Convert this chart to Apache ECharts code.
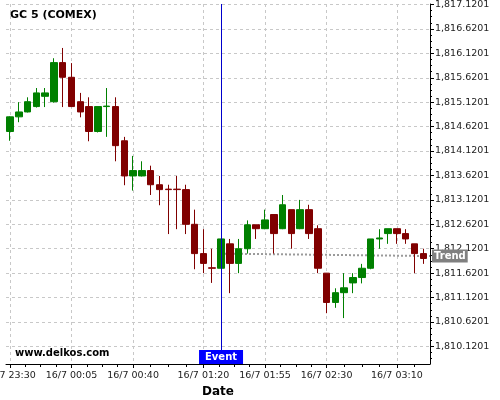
<!DOCTYPE html>
<html><head><meta charset="utf-8">
<script src="https://cdn.jsdelivr.net/npm/echarts@6/dist/echarts.min.js"></script>
<style>html,body{margin:0;padding:0;background:#fff}#c{width:500px;height:400px}</style>
</head><body><div id="c"></div>
<script>
const times = ["15/7 23:30","15/7 23:35","15/7 23:40","15/7 23:45","15/7 23:50","15/7 23:55",
"16/7 00:00","16/7 00:05","16/7 00:10","16/7 00:15","16/7 00:20","16/7 00:25","16/7 00:30","16/7 00:35",
"16/7 00:40","16/7 00:45","16/7 00:50","16/7 00:55","16/7 01:00","16/7 01:05","16/7 01:10","16/7 01:15",
"16/7 01:20","16/7 01:25","16/7 01:30","16/7 01:35","16/7 01:40","16/7 01:45","16/7 01:50","16/7 01:55",
"16/7 02:00","16/7 02:05","16/7 02:10","16/7 02:15","16/7 02:20","16/7 02:25","16/7 02:30","16/7 02:35",
"16/7 02:40","16/7 02:45","16/7 02:50","16/7 02:55","16/7 03:00","16/7 03:05","16/7 03:10","16/7 03:15",
"16/7 03:20","16/7 03:25"];
const opens  = [1814.52,1814.82,1814.92,1815.03,1815.24,1815.13,1815.93,1815.63,1815.13,1815.03,1814.52,1815.03,
1815.03,1814.33,1813.61,1813.61,1813.72,1813.43,1813.34,1813.34,1813.33,1812.62,1812.02,1811.73,
1811.72,1812.22,1811.82,1812.12,1812.61,1812.53,1812.82,1812.53,1812.92,1812.53,1812.92,1812.53,
1811.62,1811.02,1811.22,1811.42,1811.53,1811.72,1812.32,1812.43,1812.53,1812.43,1812.22,1812.02];
const closes = [1814.82,1814.92,1815.13,1815.31,1815.31,1815.93,1815.63,1815.03,1814.92,1814.52,1815.03,1815.04,
1814.23,1813.61,1813.72,1813.72,1813.43,1813.33,1813.33,1813.33,1812.62,1812.02,1811.82,1811.72,
1812.32,1811.82,1812.12,1812.61,1812.53,1812.71,1812.43,1813.02,1812.43,1812.92,1812.43,1811.72,
1811.02,1811.22,1811.32,1811.53,1811.72,1812.32,1812.34,1812.53,1812.43,1812.32,1812.02,1811.92];
const lows   = [1814.33,1814.71,1814.91,1815.01,1815.02,1815.11,1815.02,1815.02,1814.81,1814.32,1814.50,1814.41,
1813.91,1813.42,1813.31,1813.60,1813.22,1813.01,1812.42,1812.52,1812.42,1811.70,1811.62,1811.42,
1811.72,1811.21,1811.62,1812.02,1812.32,1812.52,1812.02,1812.52,1812.12,1812.52,1812.32,1811.62,
1810.80,1810.91,1810.70,1811.21,1811.41,1811.70,1812.12,1812.22,1812.22,1812.22,1811.62,1811.81];
const highs  = [1814.83,1815.12,1815.22,1815.41,1815.41,1816.02,1816.23,1815.92,1815.31,1815.22,1815.03,1815.41,
1815.22,1814.41,1814.02,1813.91,1813.82,1813.61,1813.43,1813.61,1813.43,1812.92,1812.52,1812.12,
1812.32,1812.32,1812.32,1812.70,1812.61,1812.92,1812.82,1813.22,1812.92,1813.12,1813.02,1812.60,
1811.62,1811.31,1811.62,1811.62,1811.81,1812.32,1812.52,1812.53,1812.53,1812.52,1812.22,1812.12];
const xMajorTicks = [0, 7, 14, 22, 29, 36, 44];
const xMinorTicks = [1.75, 3.5, 5.25, 8.75, 10.5, 12.25, 16, 18, 20, 23.75, 25.5, 27.25,
                     30.75, 32.5, 34.25, 38, 40, 42, 46];
const yMajorTicks = [1810.1201, 1810.6201, 1811.1201, 1811.6201, 1812.1201, 1812.6201, 1813.1201,
                     1813.6201, 1814.1201, 1814.6201, 1815.1201, 1815.6201, 1816.1201, 1816.6201, 1817.1201];
const trendX = [24, 47.76];
const trendY = [1812.02, 1811.97];
const eventIndex = 24;
const yMin = 1809.76, yMax = 1817.13, xMin = -0.45, xMax = 47.76;

const yMinorTicks = [];
yMajorTicks.forEach(function (t) {
  [-0.375, -0.25, -0.125].forEach(function (d) { const v = t + d; if (v >= yMin) yMinorTicks.push(v); });
});

const GRID = { left: 6, right: 70, top: 4, bottom: 36 };
const W = 500, H = 400;
const gridW = W - GRID.left - GRID.right, gridH = H - GRID.top - GRID.bottom;

const FONT = '"DejaVu Sans", sans-serif';
function fmtY(v) {
  const s = v.toFixed(4).split('.');
  return s[0].replace(/\B(?=(\d{3})+(?!\d))/g, ',') + '.' + s[1];
}
const candleData = opens.map(function (o, i) { return [i, o, closes[i], lows[i], highs[i]]; });
const gridLine = { show: true, lineStyle: { color: '#c8c8c8', type: [3, 3], width: 1 } };

const chart = echarts.init(document.getElementById('c'), null, { renderer: 'canvas' });
chart.setOption({
  animation: false,
  backgroundColor: '#fff',
  grid: { left: GRID.left, right: GRID.right, top: GRID.top, bottom: GRID.bottom, containLabel: false, outerBoundsMode: 'none' },
  xAxis: [{
    type: 'value', min: xMin, max: xMax, position: 'bottom',
    name: 'Date', nameLocation: 'middle', nameGap: 19,
    nameTextStyle: { fontFamily: FONT, fontSize: 12, fontWeight: 'bold', color: '#000' },
    axisLine: { show: true, onZero: false, lineStyle: { color: '#000', width: 1 } },
    axisTick: { show: true, customValues: xMajorTicks, length: 4, lineStyle: { color: '#000' } },
    axisLabel: { show: true, customValues: xMajorTicks, hideOverlap: false, margin: 7,
      fontFamily: FONT, fontSize: 9.5, color: '#222',
      formatter: function (v) { return times[Math.round(v)]; } },
    splitLine: gridLine
  }, {
    type: 'value', min: xMin, max: xMax, position: 'top', offset: -gridH,
    axisLine: { show: false, onZero: false },
    axisTick: { show: true, inside: true, customValues: xMinorTicks, length: 3, lineStyle: { color: '#000' } },
    axisLabel: { show: false }, splitLine: { show: false }
  }],
  yAxis: [{
    type: 'value', min: yMin, max: yMax, position: 'right', scale: true,
    axisLine: { show: true, onZero: false, lineStyle: { color: '#000', width: 1 } },
    axisTick: { show: true, customValues: yMajorTicks, length: 4, lineStyle: { color: '#000' } },
    axisLabel: { show: true, customValues: yMajorTicks, margin: 5, hideOverlap: false,
      fontFamily: FONT, fontSize: 9.5, color: '#222', formatter: fmtY },
    splitLine: gridLine
  }, {
    type: 'value', min: yMin, max: yMax, position: 'left', offset: -gridW, scale: true,
    axisLine: { show: false, onZero: false },
    axisTick: { show: true, inside: true, customValues: yMinorTicks, length: 2, lineStyle: { color: '#000' } },
    axisLabel: { show: false }, splitLine: { show: false }
  }],
  graphic: [
    { type: 'text', left: 10, top: 10, z: 10,
      style: { text: 'GC 5 (COMEX)', fontFamily: FONT, fontSize: 11, fontWeight: 'bold', fill: '#000' } },
    { type: 'text', left: 15, top: 348.5, z: 10,
      style: { text: 'www.delkos.com', fontFamily: FONT, fontSize: 10, fontWeight: 'bold', fill: '#000' } }
  ],
  series: [{
    type: 'line', z: 1, xAxisIndex: 0, yAxisIndex: 0,
    data: trendX.map(function (x, i) { return [x, trendY[i]]; }),
    showSymbol: false, symbol: 'none', silent: true,
    lineStyle: { type: 'dotted', width: 2, color: '#9a9a9a' },
    endLabel: { show: true, formatter: 'Trend', distance: 2, color: '#fff', backgroundColor: '#808080',
      fontFamily: FONT, fontSize: 10, fontWeight: 'bold', padding: [2, 2, 1, 2] }
  }, {
    type: 'candlestick', z: 2, xAxisIndex: 0, yAxisIndex: 0,
    barWidth: 7,
    encode: { x: 0, y: [1, 2, 3, 4] },
    data: candleData,
    itemStyle: { color: '#008000', color0: '#800000', borderColor: '#008000', borderColor0: '#800000', borderWidth: 1 }
  }, {
    type: 'line', z: 5, xAxisIndex: 0, yAxisIndex: 0, data: [], silent: true,
    markLine: { symbol: 'none', silent: true, animation: false, label: { show: false },
      lineStyle: { color: '#0000cc', width: 1, type: 'solid' },
      data: [{ xAxis: eventIndex }] },
    markPoint: { symbol: 'rect', symbolSize: [44, 14], symbolOffset: [0, -7], silent: true, animation: false,
      itemStyle: { color: '#0000ff' },
      label: { show: true, formatter: 'Event', color: '#fff', fontFamily: FONT, fontSize: 10, fontWeight: 'bold' },
      data: [{ coord: [eventIndex, yMin] }] }
  }]
});
</script></body></html>
